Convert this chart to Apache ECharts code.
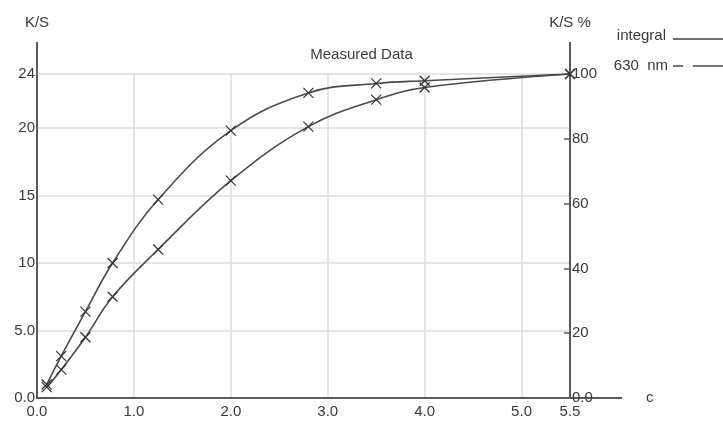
<!DOCTYPE html>
<html>
<head>
<meta charset="utf-8">
<script src="https://cdn.jsdelivr.net/npm/echarts@6/dist/echarts.min.js"></script>
<style>
html,body{margin:0;padding:0;background:#fff;}
#chart{width:723px;height:426px;}
</style>
</head>
<body>
<div id="chart"></div>
<script>
// ---- data ----
const cValues = [0.1, 0.25, 0.5, 0.78, 1.25, 2.0, 2.8, 3.5, 4.0, 5.5];
const integralKS = [1.0, 3.1, 6.4, 10.0, 14.7, 19.8, 22.6, 23.3, 23.5, 24.0];
const nm630KS = [0.8, 2.1, 4.5, 7.5, 11.0, 16.1, 20.1, 22.1, 23.0, 24.0];
const seriesNames = ['integral', '630  nm'];
const chartTitle = 'Measured Data';
const leftAxisName = 'K/S';
const rightAxisName = 'K/S %';
const xAxisName = 'c';

const FONT = "'Liberation Sans', Arial, sans-serif";
const FS = 15;
const TXT = '#3a3a3a';
const AX = '#5a5a5a';
const GRIDC = '#dcdcdc';
const xMark = 'path://M0,0L10,10M10,0L0,10';

function fmt1(v) { return v < 10 ? v.toFixed(1) : String(v); }

const chart = echarts.init(document.getElementById('chart'), null, {renderer: 'canvas'});
const textBase = {fontFamily: FONT, fontSize: FS, color: TXT};

function mk(name, vals) {
  return {
    name: name,
    type: 'line',
    smooth: 0.4,
    data: cValues.map((c, i) => [c, vals[i]]),
    symbol: xMark,
    symbolSize: 10,
    lineStyle: {color: '#4a4a4a', width: 1.6},
    itemStyle: {color: 'rgba(0,0,0,0)', borderColor: '#333', borderWidth: 1.2},
    emphasis: {disabled: true},
    z: 5
  };
}

chart.setOption({
  animation: false,
  backgroundColor: '#fff',
  title: {
    text: chartTitle, left: 'center', top: 42,
    textStyle: {fontFamily: FONT, fontSize: FS, fontWeight: 'normal', color: TXT}
  },
  grid: {left: 37, right: 153, top: 74, bottom: 28},
  xAxis: {
    type: 'value', min: 0, max: 5.5, interval: 1,
    name: xAxisName, nameLocation: 'end', nameGap: 76,
    nameTextStyle: textBase,
    axisLine: {show: true, lineStyle: {color: AX, width: 2}},
    axisTick: {show: false},
    axisLabel: Object.assign({margin: 6, formatter: v => v.toFixed(1), showMaxLabel: true}, textBase),
    splitLine: {show: true, lineStyle: {color: GRIDC, width: 1.5}}
  },
  yAxis: [
    {
      type: 'value', min: 0, max: 24, interval: 5, position: 'left',
      name: leftAxisName, nameLocation: 'end', nameGap: 44,
      nameTextStyle: textBase,
      axisLine: {show: true, lineStyle: {color: AX, width: 2}},
      axisTick: {show: false},
      axisLabel: Object.assign({margin: 2, formatter: fmt1, showMaxLabel: true}, textBase),
      splitLine: {show: true, lineStyle: {color: GRIDC, width: 1.5}}
    },
    {
      type: 'value', min: 0, max: 100, interval: 20, position: 'right',
      name: rightAxisName, nameLocation: 'end', nameGap: 44,
      nameTextStyle: textBase,
      axisLine: {show: true, lineStyle: {color: AX, width: 2}},
      axisTick: {show: true, inside: true, length: 6, lineStyle: {color: AX, width: 1.5}},
      axisLabel: Object.assign({margin: 2, formatter: fmt1, showMaxLabel: true}, textBase),
      splitLine: {show: false}
    }
  ],
  graphic: [
    {type: 'line', shape: {x1: 37, y1: 42, x2: 37, y2: 74}, style: {stroke: AX, lineWidth: 2}},
    {type: 'line', shape: {x1: 570, y1: 42, x2: 570, y2: 74}, style: {stroke: AX, lineWidth: 2}},
    {type: 'line', shape: {x1: 570, y1: 398, x2: 622, y2: 398}, style: {stroke: AX, lineWidth: 2}},
    {type: 'text', x: 666, y: 36, style: {text: seriesNames[0], font: FS + "px " + FONT, fill: TXT, textAlign: 'right', textVerticalAlign: 'middle'}},
    {type: 'line', shape: {x1: 673, y1: 39, x2: 723, y2: 39}, style: {stroke: '#444', lineWidth: 1.5}},
    {type: 'text', x: 668, y: 66, style: {text: seriesNames[1], font: FS + "px " + FONT, fill: TXT, textAlign: 'right', textVerticalAlign: 'middle'}},
    {type: 'line', shape: {x1: 673, y1: 66, x2: 683, y2: 66}, style: {stroke: '#444', lineWidth: 1.5}},
    {type: 'line', shape: {x1: 693, y1: 66, x2: 723, y2: 66}, style: {stroke: '#444', lineWidth: 1.5}}
  ],
  series: [mk(seriesNames[0], integralKS), mk(seriesNames[1], nm630KS)]
});
</script>
</body>
</html>
